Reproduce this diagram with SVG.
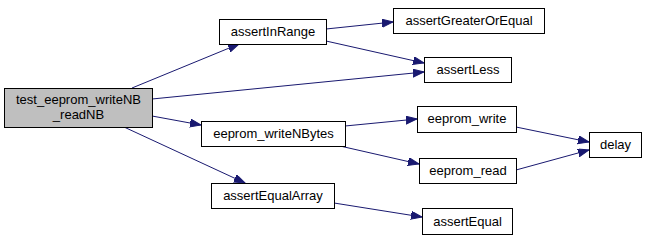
<svg xmlns="http://www.w3.org/2000/svg" width="648" height="240" viewBox="0 0 648 240">
  <style>
    .node rect { fill: #ffffff; stroke: #000000; stroke-width: 1; }
    .node.root rect { fill: #bfbfbf; }
    .node text { font-family: "Liberation Sans", Arial, sans-serif; font-size: 13px; fill: #000000; text-anchor: middle; }
    .edges line { stroke: #191970; stroke-width: 1; fill: none; marker-end: url(#arrow); }
  </style>
  <defs>
    <marker id="arrow" markerUnits="userSpaceOnUse" markerWidth="13" markerHeight="10" refX="11" refY="4" orient="auto">
      <path d="M0,0 L11,4 L0,8 Z" fill="#191970" stroke="#191970" stroke-width="1"/>
    </marker>
  </defs>
  <rect width="648" height="240" fill="#ffffff"/>

  <!-- call edges -->
  <g id="edges" class="edges">
    <line x1="132" y1="88" x2="239" y2="44"/>
    <line x1="152" y1="99" x2="424" y2="72"/>
    <line x1="152" y1="116" x2="201" y2="125"/>
    <line x1="124" y1="127" x2="245" y2="183"/>
    <line x1="326" y1="29" x2="393" y2="22"/>
    <line x1="326" y1="41" x2="424" y2="63"/>
    <line x1="345" y1="126" x2="417" y2="119"/>
    <line x1="340" y1="146" x2="419" y2="164"/>
    <line x1="516" y1="127" x2="589" y2="142"/>
    <line x1="516" y1="170" x2="589" y2="150"/>
    <line x1="334" y1="203" x2="422" y2="217"/>
  </g>

  <g id="node_test_eeprom_writeNB_readNB" class="node root">
    <rect x="4.5" y="88.5" width="148" height="39"/>
    <text x="78.5" y="104">test_eeprom_writeNB</text>
    <text x="78.5" y="119">_readNB</text>
  </g>
  <g id="node_assertInRange" class="node">
    <rect x="219.5" y="19.5" width="107" height="25"/>
    <text x="273" y="36">assertInRange</text>
  </g>
  <g id="node_assertGreaterOrEqual" class="node">
    <rect x="393.5" y="8.5" width="151" height="25"/>
    <text x="469" y="25">assertGreaterOrEqual</text>
  </g>
  <g id="node_assertLess" class="node">
    <rect x="424.5" y="57.5" width="87" height="25"/>
    <text x="468" y="74">assertLess</text>
  </g>
  <g id="node_eeprom_writeNBytes" class="node">
    <rect x="201.5" y="121.5" width="144" height="25"/>
    <text x="273.5" y="138">eeprom_writeNBytes</text>
  </g>
  <g id="node_assertEqualArray" class="node">
    <rect x="211.5" y="183.5" width="123" height="25"/>
    <text x="273" y="200">assertEqualArray</text>
  </g>
  <g id="node_eeprom_write" class="node">
    <rect x="417.5" y="106.5" width="99" height="26"/>
    <text x="467" y="123">eeprom_write</text>
  </g>
  <g id="node_eeprom_read" class="node">
    <rect x="419.5" y="158.5" width="97" height="25"/>
    <text x="468" y="175">eeprom_read</text>
  </g>
  <g id="node_assertEqual" class="node">
    <rect x="422.5" y="208.5" width="90" height="26"/>
    <text x="467.5" y="226">assertEqual</text>
  </g>
  <g id="node_delay" class="node">
    <rect x="589.5" y="132.5" width="52" height="25"/>
    <text x="615.5" y="149">delay</text>
  </g>
</svg>
